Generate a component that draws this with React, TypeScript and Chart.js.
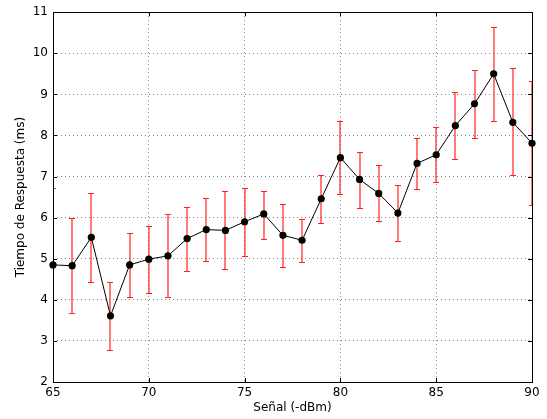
import React, { useEffect, useRef } from "react";
import { Chart, registerables } from "chart.js";

Chart.register(...registerables);

const signal = [65, 66, 67, 68, 69, 70, 71, 72, 73, 74, 75, 76, 77, 78, 79, 80, 81, 82, 83, 84, 85, 86, 87, 88, 89, 90];
const responseTime = [4.85, 4.83, 5.52, 3.61, 4.85, 4.99, 5.07, 5.49, 5.71, 5.69, 5.9, 6.09, 5.57, 5.45, 6.46, 7.46, 6.93, 6.59, 6.11, 7.32, 7.53, 8.24, 8.77, 9.5, 8.32, 7.81];
const errorUp = [1.86, 1.15, 1.07, 0.82, 0.77, 0.81, 1.01, 0.78, 0.76, 0.96, 0.83, 0.57, 0.76, 0.51, 0.59, 0.89, 0.67, 0.7, 0.68, 0.61, 0.68, 0.83, 0.83, 1.15, 1.31, 1.52];
const errorDown = [1.85, 1.15, 1.09, 0.84, 0.77, 0.82, 0.99, 0.78, 0.76, 0.95, 0.84, 0.61, 0.76, 0.52, 0.6, 0.89, 0.69, 0.68, 0.67, 0.62, 0.67, 0.82, 0.82, 1.14, 1.29, 1.51];
const xTitle = "Señal (-dBm)";
const yTitle = "Tiempo de Respuesta (ms)";

const errorBarPlugin = {
  id: "errorBars",
  beforeDatasetsDraw(chart: any) {
    const { ctx, chartArea, scales } = chart;
    const xs = scales.x;
    const ys = scales.y;
    ctx.save();
    ctx.beginPath();
    ctx.rect(chartArea.left, chartArea.top, chartArea.right - chartArea.left, chartArea.bottom - chartArea.top);
    ctx.clip();
    ctx.strokeStyle = "#ff2020";
    ctx.lineWidth = 1.2;
    ctx.setLineDash([]);
    signal.forEach((x, i) => {
      const px = Math.round(xs.getPixelForValue(x));
      const top = Math.round(ys.getPixelForValue(responseTime[i] + errorUp[i])) + 0.5;
      const bot = Math.round(ys.getPixelForValue(responseTime[i] - errorDown[i])) + 0.5;
      ctx.beginPath();
      ctx.moveTo(px, top);
      ctx.lineTo(px, bot);
      ctx.moveTo(px - 3, top);
      ctx.lineTo(px + 3, top);
      ctx.moveTo(px - 3, bot);
      ctx.lineTo(px + 3, bot);
      ctx.stroke();
    });
    ctx.restore();
  },
};

const framePlugin = {
  id: "frame",
  afterDatasetsDraw(chart: any) {
    const { ctx, chartArea, scales } = chart;
    const { left, right, top, bottom } = chartArea;
    ctx.save();
    ctx.strokeStyle = "#000";
    ctx.lineWidth = 1;
    ctx.setLineDash([]);
    ctx.beginPath();
    scales.x.ticks.forEach((t: any) => {
      const px = Math.round(scales.x.getPixelForValue(t.value)) + 0.5;
      ctx.moveTo(px, bottom);
      ctx.lineTo(px, bottom - 4);
      ctx.moveTo(px, top);
      ctx.lineTo(px, top + 4);
    });
    scales.y.ticks.forEach((t: any) => {
      const py = Math.round(scales.y.getPixelForValue(t.value)) + 0.5;
      ctx.moveTo(left, py);
      ctx.lineTo(left + 4, py);
      ctx.moveTo(right, py);
      ctx.lineTo(right - 4, py);
    });
    ctx.stroke();
    ctx.strokeRect(Math.round(left) + 0.5, Math.round(top) + 0.5, Math.round(right - left), Math.round(bottom - top));
    ctx.restore();
  },
};

export default function App() {
  const ref = useRef<HTMLCanvasElement>(null);
  useEffect(() => {
    document.body.style.margin = "0";
    const chart = new Chart(ref.current!, {
      type: "line",
      data: {
        datasets: [
          {
            data: signal.map((x, i) => ({ x, y: responseTime[i] })),
            borderColor: "#000",
            borderWidth: 1,
            backgroundColor: "#000",
            pointRadius: 3.6,
            pointBorderWidth: 0,
            pointBackgroundColor: "#000",
            tension: 0,
            clip: 4,
          },
        ],
      },
      options: {
        animation: false,
        responsive: false,
        maintainAspectRatio: false,
        layout: { padding: { top: 10, right: 15, left: 0, bottom: 0 } },
        plugins: { legend: { display: false }, tooltip: { enabled: false } },
        scales: {
          x: {
            type: "linear",
            min: 65,
            max: 90,
            afterFit: (s: any) => {
              s.height = 37;
            },
            ticks: { stepSize: 5, color: "#000", padding: 4, font: { family: "DejaVu Sans", size: 12 } },
            grid: { color: "#666", drawTicks: false, lineWidth: 0.8 },
            border: { display: false, dash: [1, 3] },
            title: { display: true, text: xTitle, color: "#000", font: { family: "DejaVu Sans", size: 12 }, padding: { top: 4, bottom: 4 } },
          },
          y: {
            type: "linear",
            min: 2,
            max: 11,
            afterFit: (s: any) => {
              s.width = 53;
            },
            ticks: { stepSize: 1, color: "#000", padding: 5, font: { family: "DejaVu Sans", size: 12 } },
            grid: { color: "#666", drawTicks: false, lineWidth: 0.8 },
            border: { display: false, dash: [1, 3] },
            title: { display: true, text: yTitle, color: "#000", font: { family: "DejaVu Sans", size: 12 }, padding: { top: 14, bottom: 4 } },
          },
        },
      },
      plugins: [errorBarPlugin, framePlugin],
    });
    return () => chart.destroy();
  }, []);
  return (
    <div style={{ position: "absolute", left: 0, top: 0, width: 547, height: 419, background: "#fff" }}>
      <canvas ref={ref} width={547} height={419} style={{ width: 547, height: 419 }} />
    </div>
  );
}
